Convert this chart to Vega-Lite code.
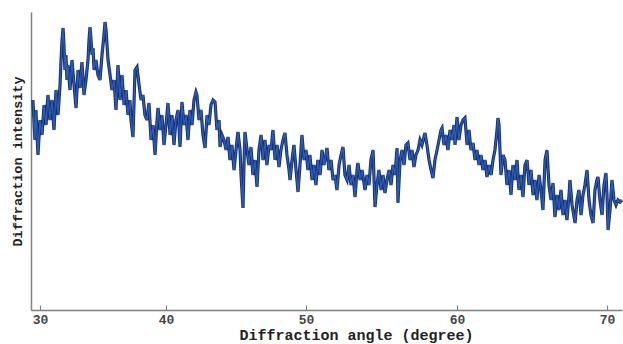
{
  "$schema": "https://vega.github.io/schema/vega-lite/v6.json",
  "width": 591,
  "height": 298,
  "autosize": {"type": "none"},
  "padding": {"left": 31, "top": 12, "right": 1, "bottom": 34},
  "background": "#ffffff",
  "config": {"view": {"stroke": null}},
  "data": {"values": [
    {"angle":29.44,"intensity":210},{"angle":29.60,"intensity":170},{"angle":29.68,"intensity":200},{"angle":29.84,"intensity":155},
    {"angle":30.00,"intensity":190},{"angle":30.16,"intensity":175},{"angle":30.32,"intensity":205},{"angle":30.48,"intensity":185},
    {"angle":30.63,"intensity":215},{"angle":30.79,"intensity":190},{"angle":30.95,"intensity":210},{"angle":31.11,"intensity":180},
    {"angle":31.27,"intensity":220},{"angle":31.43,"intensity":195},{"angle":31.59,"intensity":225},{"angle":31.67,"intensity":250},
    {"angle":31.75,"intensity":270},{"angle":31.83,"intensity":282},{"angle":31.90,"intensity":265},{"angle":31.98,"intensity":240},
    {"angle":32.06,"intensity":255},{"angle":32.14,"intensity":230},{"angle":32.22,"intensity":245},{"angle":32.38,"intensity":220},
    {"angle":32.54,"intensity":250},{"angle":32.70,"intensity":225},{"angle":32.86,"intensity":202},{"angle":33.02,"intensity":240},
    {"angle":33.17,"intensity":222},{"angle":33.33,"intensity":248},{"angle":33.49,"intensity":215},{"angle":33.65,"intensity":230},
    {"angle":33.81,"intensity":250},{"angle":33.89,"intensity":270},{"angle":33.97,"intensity":283},{"angle":34.05,"intensity":270},
    {"angle":34.13,"intensity":255},{"angle":34.21,"intensity":262},{"angle":34.29,"intensity":240},{"angle":34.44,"intensity":250},
    {"angle":34.60,"intensity":235},{"angle":34.76,"intensity":230},{"angle":34.92,"intensity":255},{"angle":35.08,"intensity":275},
    {"angle":35.16,"intensity":288},{"angle":35.24,"intensity":280},{"angle":35.32,"intensity":265},{"angle":35.40,"intensity":250},
    {"angle":35.56,"intensity":235},{"angle":35.71,"intensity":220},{"angle":35.87,"intensity":230},{"angle":36.03,"intensity":200},
    {"angle":36.19,"intensity":245},{"angle":36.35,"intensity":210},{"angle":36.51,"intensity":235},{"angle":36.67,"intensity":205},
    {"angle":36.83,"intensity":220},{"angle":36.98,"intensity":195},{"angle":37.14,"intensity":210},{"angle":37.22,"intensity":190},
    {"angle":37.38,"intensity":173},{"angle":37.54,"intensity":240},{"angle":37.70,"intensity":243},{"angle":37.86,"intensity":225},
    {"angle":38.02,"intensity":210},{"angle":38.17,"intensity":215},{"angle":38.33,"intensity":195},{"angle":38.49,"intensity":190},
    {"angle":38.65,"intensity":207},{"angle":38.81,"intensity":170},{"angle":38.97,"intensity":185},{"angle":39.13,"intensity":155},
    {"angle":39.29,"intensity":190},{"angle":39.37,"intensity":202},{"angle":39.52,"intensity":180},{"angle":39.68,"intensity":195},
    {"angle":39.84,"intensity":165},{"angle":40.00,"intensity":185},
    {"angle":40.14,"intensity":207},{"angle":40.29,"intensity":175},{"angle":40.43,"intensity":195},{"angle":40.57,"intensity":165},
    {"angle":40.71,"intensity":190},{"angle":40.86,"intensity":200},{"angle":41.00,"intensity":163},{"angle":41.14,"intensity":208},
    {"angle":41.29,"intensity":185},{"angle":41.43,"intensity":195},{"angle":41.57,"intensity":170},{"angle":41.71,"intensity":200},
    {"angle":41.86,"intensity":185},{"angle":42.00,"intensity":210},{"angle":42.14,"intensity":218},{"angle":42.21,"intensity":215},
    {"angle":42.36,"intensity":190},{"angle":42.50,"intensity":200},{"angle":42.64,"intensity":175},{"angle":42.79,"intensity":162},
    {"angle":42.93,"intensity":195},{"angle":43.07,"intensity":185},{"angle":43.21,"intensity":205},{"angle":43.36,"intensity":210},
    {"angle":43.50,"intensity":208},{"angle":43.64,"intensity":180},{"angle":43.79,"intensity":190},{"angle":43.86,"intensity":163},
    {"angle":44.00,"intensity":175},{"angle":44.14,"intensity":170},{"angle":44.29,"intensity":160},{"angle":44.43,"intensity":173},
    {"angle":44.57,"intensity":150},{"angle":44.71,"intensity":165},{"angle":44.86,"intensity":140},{"angle":45.00,"intensity":160},
    {"angle":45.14,"intensity":178},{"angle":45.29,"intensity":160},{"angle":45.36,"intensity":135},{"angle":45.50,"intensity":102},
    {"angle":45.57,"intensity":145},{"angle":45.64,"intensity":178},{"angle":45.79,"intensity":160},{"angle":45.93,"intensity":145},
    {"angle":46.07,"intensity":163},{"angle":46.21,"intensity":135},{"angle":46.36,"intensity":150},{"angle":46.50,"intensity":123},
    {"angle":46.64,"intensity":160},{"angle":46.79,"intensity":175},{"angle":46.93,"intensity":150},{"angle":47.07,"intensity":170},
    {"angle":47.21,"intensity":145},{"angle":47.36,"intensity":165},{"angle":47.50,"intensity":160},{"angle":47.64,"intensity":180},
    {"angle":47.79,"intensity":150},{"angle":47.93,"intensity":165},{"angle":48.07,"intensity":143},{"angle":48.21,"intensity":160},
    {"angle":48.36,"intensity":170},{"angle":48.50,"intensity":177},{"angle":48.64,"intensity":155},{"angle":48.79,"intensity":140},
    {"angle":48.86,"intensity":130},{"angle":49.00,"intensity":150},{"angle":49.14,"intensity":165},{"angle":49.29,"intensity":140},
    {"angle":49.43,"intensity":118},{"angle":49.57,"intensity":145},{"angle":49.71,"intensity":175},{"angle":49.86,"intensity":150},
    {"angle":50.00,"intensity":160},
    {"angle":50.13,"intensity":140},{"angle":50.26,"intensity":155},{"angle":50.40,"intensity":130},{"angle":50.53,"intensity":145},
    {"angle":50.66,"intensity":125},{"angle":50.79,"intensity":150},{"angle":50.93,"intensity":135},{"angle":51.06,"intensity":160},
    {"angle":51.19,"intensity":145},{"angle":51.32,"intensity":155},{"angle":51.39,"intensity":162},{"angle":51.52,"intensity":140},
    {"angle":51.66,"intensity":150},{"angle":51.79,"intensity":130},{"angle":51.92,"intensity":135},{"angle":52.05,"intensity":120},
    {"angle":52.19,"intensity":145},{"angle":52.32,"intensity":155},{"angle":52.45,"intensity":163},{"angle":52.58,"intensity":135},
    {"angle":52.72,"intensity":130},{"angle":52.85,"intensity":145},{"angle":52.98,"intensity":125},{"angle":53.11,"intensity":135},
    {"angle":53.25,"intensity":113},{"angle":53.38,"intensity":140},{"angle":53.44,"intensity":147},{"angle":53.58,"intensity":130},
    {"angle":53.71,"intensity":140},{"angle":53.91,"intensity":120},{"angle":54.04,"intensity":135},{"angle":54.17,"intensity":125},
    {"angle":54.30,"intensity":150},{"angle":54.44,"intensity":160},{"angle":54.57,"intensity":103},{"angle":54.70,"intensity":125},
    {"angle":54.83,"intensity":140},{"angle":54.97,"intensity":120},{"angle":55.10,"intensity":135},{"angle":55.23,"intensity":117},
    {"angle":55.36,"intensity":130},{"angle":55.50,"intensity":140},{"angle":55.63,"intensity":125},{"angle":55.76,"intensity":145},
    {"angle":55.89,"intensity":135},{"angle":56.03,"intensity":162},{"angle":56.09,"intensity":107},{"angle":56.23,"intensity":150},
    {"angle":56.36,"intensity":160},{"angle":56.49,"intensity":145},{"angle":56.62,"intensity":165},{"angle":56.75,"intensity":167},
    {"angle":56.89,"intensity":150},{"angle":57.02,"intensity":160},{"angle":57.15,"intensity":143},{"angle":57.28,"intensity":155},
    {"angle":57.42,"intensity":160},{"angle":57.55,"intensity":170},{"angle":57.68,"intensity":165},{"angle":57.88,"intensity":177},
    {"angle":58.01,"intensity":165},{"angle":58.15,"intensity":150},{"angle":58.28,"intensity":140},{"angle":58.41,"intensity":132},
    {"angle":58.54,"intensity":150},{"angle":58.68,"intensity":160},{"angle":58.81,"intensity":170},{"angle":58.94,"intensity":180},
    {"angle":59.01,"intensity":182},{"angle":59.14,"intensity":165},{"angle":59.27,"intensity":175},{"angle":59.40,"intensity":160},
    {"angle":59.54,"intensity":180},{"angle":59.67,"intensity":170},{"angle":59.80,"intensity":185},{"angle":59.87,"intensity":165},
    {"angle":60.00,"intensity":193},
    {"angle":60.13,"intensity":170},{"angle":60.27,"intensity":185},{"angle":60.40,"intensity":190},{"angle":60.53,"intensity":192},
    {"angle":60.67,"intensity":165},{"angle":60.80,"intensity":180},{"angle":60.93,"intensity":160},{"angle":61.07,"intensity":167},
    {"angle":61.20,"intensity":150},{"angle":61.33,"intensity":160},{"angle":61.47,"intensity":145},{"angle":61.60,"intensity":155},
    {"angle":61.73,"intensity":140},{"angle":61.87,"intensity":150},{"angle":62.00,"intensity":133},{"angle":62.13,"intensity":145},
    {"angle":62.27,"intensity":135},{"angle":62.40,"intensity":150},{"angle":62.53,"intensity":160},{"angle":62.67,"intensity":180},
    {"angle":62.73,"intensity":192},{"angle":62.80,"intensity":185},{"angle":62.93,"intensity":135},{"angle":63.07,"intensity":155},
    {"angle":63.20,"intensity":150},{"angle":63.33,"intensity":125},{"angle":63.47,"intensity":140},{"angle":63.60,"intensity":115},
    {"angle":63.73,"intensity":145},{"angle":63.87,"intensity":130},{"angle":64.00,"intensity":150},{"angle":64.13,"intensity":120},
    {"angle":64.27,"intensity":135},{"angle":64.40,"intensity":113},{"angle":64.53,"intensity":145},{"angle":64.67,"intensity":150},
    {"angle":64.80,"intensity":125},{"angle":64.93,"intensity":140},{"angle":65.07,"intensity":115},{"angle":65.20,"intensity":130},
    {"angle":65.33,"intensity":110},{"angle":65.47,"intensity":135},{"angle":65.60,"intensity":120},{"angle":65.73,"intensity":100},
    {"angle":65.87,"intensity":150},{"angle":66.00,"intensity":160},{"angle":66.13,"intensity":125},{"angle":66.27,"intensity":110},
    {"angle":66.40,"intensity":127},{"angle":66.53,"intensity":93},{"angle":66.67,"intensity":115},{"angle":66.80,"intensity":100},
    {"angle":66.93,"intensity":120},{"angle":67.07,"intensity":95},{"angle":67.20,"intensity":110},{"angle":67.33,"intensity":90},
    {"angle":67.47,"intensity":115},{"angle":67.53,"intensity":130},{"angle":67.67,"intensity":105},{"angle":67.87,"intensity":87},
    {"angle":68.00,"intensity":110},{"angle":68.13,"intensity":120},{"angle":68.27,"intensity":95},{"angle":68.40,"intensity":115},
    {"angle":68.53,"intensity":125},{"angle":68.67,"intensity":140},{"angle":68.80,"intensity":110},{"angle":68.93,"intensity":95},
    {"angle":69.07,"intensity":87},{"angle":69.20,"intensity":120},{"angle":69.33,"intensity":130},{"angle":69.40,"intensity":133},
    {"angle":69.53,"intensity":110},{"angle":69.67,"intensity":95},{"angle":69.80,"intensity":125},{"angle":69.93,"intensity":137},
    {"angle":70.00,"intensity":115},{"angle":70.07,"intensity":80},{"angle":70.20,"intensity":100},{"angle":70.33,"intensity":130},
    {"angle":70.47,"intensity":110},{"angle":70.60,"intensity":105},{"angle":70.73,"intensity":110},{"angle":70.87,"intensity":108},
    {"angle":71.00,"intensity":110}
  ]},
  "encoding": {
    "x": {
      "field": "angle", "type": "quantitative",
      "scale": {"domain": [29.29, 30, 40, 50, 60, 70, 71.0], "range": [0, 9, 135, 275, 426, 576, 591], "nice": false, "zero": false},
      "axis": {
        "title": "Diffraction angle (degree)",
        "values": [30, 40, 50, 60, 70],
        "grid": false,
        "domainColor": "#808080", "domainWidth": 1.5,
        "tickColor": "#808080", "tickWidth": 1.2, "tickSize": -5,
        "labelFont": "Liberation Mono", "labelFontWeight": "bold", "labelFontSize": 13, "labelColor": "#444444",
        "labelBaseline": "alphabetic", "labelPadding": 18,
        "titleFont": "Liberation Mono", "titleFontSize": 15, "titleFontWeight": "bold", "titleColor": "#222222",
        "titleX": 325, "titleY": 29, "titleAlign": "center", "titleBaseline": "alphabetic"
      }
    },
    "y": {
      "field": "intensity", "type": "quantitative",
      "scale": {"domain": [0, 298], "nice": false, "zero": false},
      "axis": {
        "title": "Diffraction intensity",
        "labels": false, "ticks": false, "grid": false,
        "domainColor": "#808080", "domainWidth": 1.5,
        "titleFont": "Liberation Mono", "titleFontSize": 13.5, "titleFontWeight": "bold", "titleColor": "#222222",
        "titleX": -14, "titleY": 149, "titleAngle": -90, "titleAlign": "center", "titleBaseline": "middle"
      }
    }
  },
  "layer": [
    {"mark": {"type": "line", "stroke": "#1b2f70", "strokeWidth": 3.2, "strokeJoin": "miter"}},
    {"mark": {"type": "line", "stroke": "#2c66bf", "strokeWidth": 1.3, "strokeOpacity": 0.85, "strokeJoin": "miter"}}
  ]
}
